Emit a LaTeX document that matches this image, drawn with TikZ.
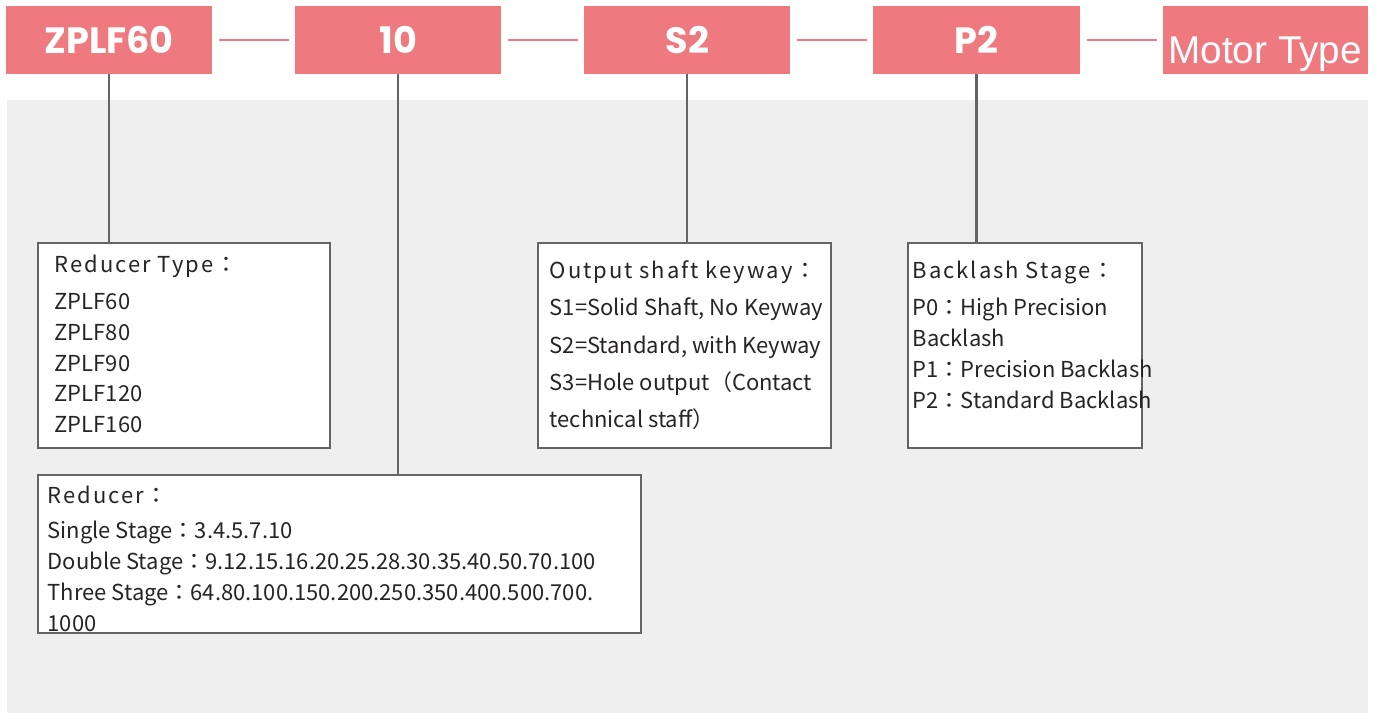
\documentclass[tikz,border=0pt]{standalone}
\usepackage{fontspec}
\usepackage{tikz}
\usetikzlibrary{positioning}
\setmainfont{Noto Sans CJK JP}
\newfontfamily\codefont{Poppins}[BoldFont={* Bold}]
\newfontfamily\motorfont{Liberation Sans}
\newfontfamily\headfont{Noto Sans CJK JP}[LetterSpace=9]
\definecolor{codepink}{RGB}{238,122,128}
\definecolor{panelgray}{RGB}{239,239,239}
\definecolor{framegray}{RGB}{100,100,100}
\definecolor{inkgray}{RGB}{40,36,37}
\tikzstyle{codebox} = [fill=codepink,text=white,minimum width=2.06cm,minimum height=0.67cm,inner sep=0pt,outer sep=0pt,font=\codefont\bfseries\fontsize{10.4}{12}\selectfont]
\tikzstyle{link} = [codepink,line width=0.8pt,shorten <=0.07cm,shorten >=0.06cm]
\tikzstyle{stem} = [framegray,line width=0.6pt]
\tikzstyle{infobox} = [draw=framegray,fill=white,line width=0.6pt,anchor=north west,inner sep=0pt]
\tikzstyle{infotext} = [anchor=north west,inner sep=0pt,align=left,text=inkgray,font=\fontsize{6.25}{8.8}\selectfont]

\begin{document}
\begin{tikzpicture}[x=0.01cm,y=-0.01cm]
\useasboundingbox (0,0) rectangle (1381,713);
\fill[panelgray] (7,100) rectangle (1368,713);

\node[codebox] (model) at (109,40) {ZPLF60};
\node[codebox,right=0.83cm of model] (ratio) {10};
\node[codebox,right=0.83cm of ratio] (shaft) {S2};
\node[codebox,right=0.83cm of shaft] (grade) {P2};
\node[codebox,right=0.83cm of grade,minimum width=2.05cm,text height=0.46cm,text depth=0pt,font=\motorfont\fontsize{11}{12}\selectfont] (motor) {Motor Type};

\draw[link] (model.east) -- (ratio.west);
\draw[link] (ratio.east) -- (shaft.west);
\draw[link] (shaft.east) -- (grade.west);
\draw[link] (grade.east) -- (motor.west);

\node[infobox,minimum width=2.92cm,minimum height=2.05cm] (typebox) at (37,242) {};
\node[infobox,minimum width=2.93cm,minimum height=2.05cm] (shaftbox) at (537,242) {};
\node[infobox,minimum width=2.34cm,minimum height=2.05cm] (gradebox) at (907,242) {};
\node[infobox,minimum width=6.03cm,minimum height=1.58cm] (ratiobox) at (37,474) {};

\draw[stem] (model.south) -- (model.south |- typebox.north);
\draw[stem] (ratio.south) -- (ratio.south |- ratiobox.north);
\draw[stem] (shaft.south) -- (shaft.south |- shaftbox.north);
\draw[stem] (grade.south) -- (grade.south |- gradebox.north);

\node[infotext] (typetext) at ([shift={(0.17cm,-0.12cm)}]typebox.north west)
{{\headfont Reducer Type：}\\[1.7pt]
ZPLF60\\ZPLF80\\ZPLF90\\ZPLF120\\ZPLF160};

\node[infotext,font=\fontsize{6.25}{10.6}\selectfont] (shafttext) at ([shift={(0.12cm,-0.18cm)}]shaftbox.north west)
{{\headfont Output shaft keyway：}\\
S1=Solid Shaft, No Keyway\\
S2=Standard, with Keyway\\
S3=Hole output（Contact\\
technical staff）};

\node[infotext] (gradetext) at ([shift={(0.05cm,-0.18cm)}]gradebox.north west)
{{\headfont Backlash Stage：}\\[1.9pt]
P0：High Precision\\
Backlash\\
P1：Precision Backlash\\
P2：Standard Backlash};

\node[infotext] (ratiotext) at ([shift={(0.1cm,-0.11cm)}]ratiobox.north west)
{{\headfont Reducer：}\\[1.2pt]
Single Stage：3.4.5.7.10\\
Double Stage：9.12.15.16.20.25.28.30.35.40.50.70.100\\
Three Stage：64.80.100.150.200.250.350.400.500.700.\\
1000};
\end{tikzpicture}
\end{document}
